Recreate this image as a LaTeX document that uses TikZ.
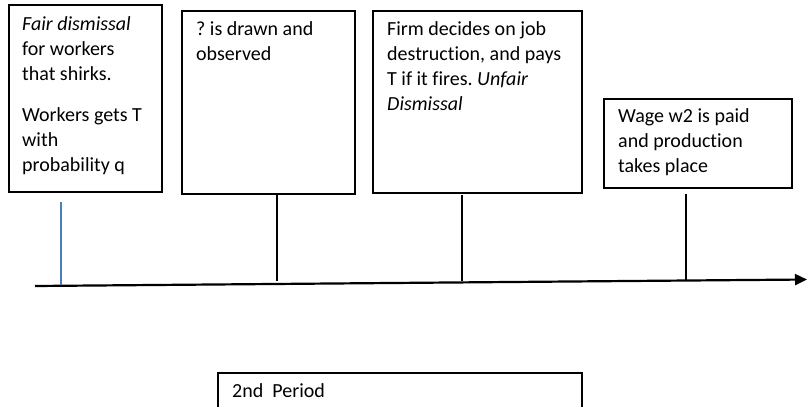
\documentclass[tikz,border=0pt]{standalone}
\usepackage{fontspec}
\setmainfont{Carlito}[Ligatures=NoCommon]
\usetikzlibrary{arrows.meta}
\definecolor{tickblue}{RGB}{74,126,187}
\frenchspacing
\begin{document}
\begin{tikzpicture}[x=1pt,y=-1pt,
  box/.style={draw=black, line width=1.5pt, anchor=north west, inner sep=0pt},
  txt/.style={anchor=north west, inner sep=0pt, align=left, font=\fontsize{20}{25}\selectfont},
  tick/.style={draw=black, line width=1.6pt},
  axis/.style={draw=black, line width=2.2pt, -{Triangle[length=12pt,width=11pt]}}
]
\useasboundingbox (0,0) rectangle (809,407);
\fill[white] (0,0) rectangle (809,407);

% boxes
\node[box, minimum width=153pt, minimum height=187pt] (b1) at (8,4) {};
\node[box, minimum width=173pt, minimum height=183pt] (b2) at (181,10) {};
\node[box, minimum width=209pt, minimum height=182pt] (b3) at (372,10) {};
\node[box, minimum width=188pt, minimum height=89pt] (b4) at (603,98) {};
\node[box, minimum width=364pt, minimum height=60pt] (b5) at (217,372) {};

% texts
\node[txt] (t1) at (22,16) {\textit{Fair dismissal}\\for workers\\that shirks.\\[16pt]Workers gets T\\with\\probability q};
\node[txt] (t2) at (196,21.5) {? is drawn and\\observed};
\node[txt] (t3) at (387,21.5) {Firm decides on job\\destruction, and pays\\T if it fires. \textit{Unfair}\\\textit{Dismissal}};
\node[txt] (t4) at (618,108.5) {Wage w2 is paid\\and production\\takes place};
\node[txt] (t5) at (232,383.5) {2nd\ \ Period};

% axis
\coordinate (axL) at (35,286);
\coordinate (axR) at (807,279.5);
\draw[axis] (axL) -- (axR);

% ticks
\coordinate (p1) at (61,202);
\coordinate (q1) at (61,285);
\coordinate (p2) at (277,193);
\coordinate (q2) at (277,281);
\coordinate (p3) at (462,195);
\coordinate (q3) at (462,281);
\coordinate (p4) at (686,194);
\coordinate (q4) at (686,280);
\draw[tick, draw=tickblue] (p1) -- (q1);
\draw[tick] (p2) -- (q2);
\draw[tick] (p3) -- (q3);
\draw[tick] (p4) -- (q4);
\end{tikzpicture}
\end{document}
